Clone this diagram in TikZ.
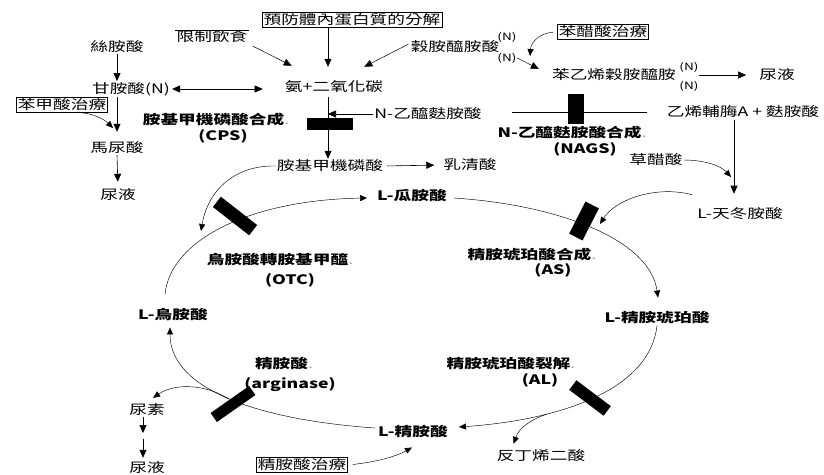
\documentclass[tikz,border=0pt]{standalone}
\usepackage{fontspec}
\usetikzlibrary{arrows.meta,calc}
\newfontfamily\zh{Noto Sans CJK TC}[FakeStretch=1.36]
\newcommand\zhsize{\fontsize{13pt}{15pt}\selectfont}
\tikzset{
  lbl/.style={inner sep=1pt, font=\zh\zhsize},
  blbl/.style={inner sep=1pt, font=\zh\zhsize\bfseries},
  tagN/.style={inner sep=0.5pt, font=\zh\fontsize{10pt}{11pt}\selectfont},
  boxed/.style={lbl, draw, line width=0.6pt, inner sep=1.5pt},
  blk/.style={fill=black, inner sep=0pt},
  arr/.style={line width=0.6pt, -{Triangle[length=8pt,width=7pt]}},
  darr/.style={line width=0.6pt, {Triangle[length=8pt,width=7pt]}-{Triangle[length=8pt,width=7pt]}},
  tarr/.style={line width=0.45pt, -{Triangle[length=7pt,width=6pt]}},
}
\newcommand\gdot{{\mdseries\color{black!35}.}}
\begin{document}
\begin{tikzpicture}[x=1pt,y=-1pt]
\useasboundingbox (0,0) rectangle (824,474);
\fill[white] (0,0) rectangle (824,474);

% ---------- labels ----------
\node[boxed] (prot) at (352,20) {預防體內蛋白質的分解};
\node[lbl] (diet) at (212,37) {限制飲食};
\draw[line width=0.5pt] (diet.north west) -- (diet.north east);
\node[lbl] (ser) at (117,47) {絲胺酸};
\node[lbl] (gly) at (131,89) {甘胺酸(N)};
\node[lbl] (nh3) at (334,87) {氨+二氧化碳};
\node[lbl] (gln) at (455,47) {穀胺醯胺酸};
\node[tagN] (glnA) at (507,37) {(N)};
\node[tagN] (glnB) at (507,58) {(N)};
\node[boxed] (phen) at (603,32) {苯醋酸治療};
\node[lbl] (pag) at (614,75) {苯乙烯穀胺醯胺};
\node[tagN] (pagA) at (689,67) {(N)};
\node[tagN] (pagB) at (689,86) {(N)};
\node[lbl] (urA) at (777,75) {尿液};
\node[lbl] (nac) at (428,114) {N-乙醯麩胺酸};
\node[blbl] (cpsn) at (216,120) {胺基甲機磷酸合成\gdot};
\node[blbl] (cpsa) at (223,136) {(CPS)};
\node[lbl] (acoa) at (743,112) {乙烯輔脢A + 麩胺酸};
\node[blbl] (nagsn) at (572,133) {N-乙醯麩胺酸合成\gdot};
\node[blbl] (nagsa) at (585,149) {(NAGS)};
\node[boxed] (benz) at (62,105) {苯甲酸治療};
\node[lbl] (hip) at (117,148) {馬尿酸};
\node[lbl] (urB) at (118,195) {尿液};
\node[lbl] (cp) at (330,166) {胺基甲機磷酸};
\node[lbl] (oro) at (470,165) {乳清酸};
\node[lbl] (oaa) at (656,160) {草醋酸};
\node[lbl] (asp) at (740,214) {L-天冬胺酸};
\node[blbl] (cit) at (412,196) {L-瓜胺酸};
\node[blbl] (otcn) at (280,260) {烏胺酸轉胺基甲醯\gdot};
\node[blbl] (otca) at (290,280) {(OTC)};
\node[blbl] (asn) at (532,255) {精胺琥珀酸合成\gdot};
\node[blbl] (asa) at (553,270) {(AS)};
\node[blbl] (orn) at (173,315) {L-烏胺酸};
\node[blbl] (asu) at (657,318) {L-精胺琥珀酸};
\node[blbl] (argn) at (284,364) {精胺酸\gdot};
\node[blbl] (arga) at (290,385) {(arginase)};
\node[blbl] (aln) at (511,364) {精胺琥珀酸裂解\gdot};
\node[blbl] (ala) at (540,380) {(AL)};
\node[lbl] (urea) at (147,410) {尿素};
\node[lbl] (urC) at (147,468) {尿液};
\node[boxed] (argt) at (302,465) {精胺酸治療};
\node[blbl] (arg) at (413,432) {L-精胺酸};
\node[lbl] (fum) at (541,456) {反丁烯二酸};

% ---------- helper points ----------
\coordinate (stem) at (328,0);
\coordinate (vx) at (734,0);
\coordinate (um) at (143,436);
\coordinate (bzhit) at (113,128);
\coordinate (phhit) at (530,56);
\coordinate (cphit) at (201,231);
\coordinate (ashit) at (600,224);
\coordinate (oahit) at (731,177);
\coordinate (alfork) at (547,414);
\coordinate (argfork) at (229,399);
\coordinate (nagsL) at (512,112);
\coordinate (nagsR) at (647,112);

% ---------- side pathways ----------
\draw[arr] (ser.south) -- (ser.south |- gly.north);
\draw[darr, shorten >=21pt, shorten <=1pt] (gly.east) -- (nh3.west |- gly.east);
\draw[arr, shorten >=9pt] (gly.south -| ser.south) -- (hip.north);
\draw[tarr] ($(benz.south)+(20,0)$) .. controls (95,114) and (105,120) .. (bzhit);
\draw[arr, shorten >=6pt] (hip.south) -- (urB.north);
\draw[arr, line width=0.5pt] ($(diet.east)+(4,9)$) -- ($(nh3.north west)+(8,-14)$);
\draw[arr] (prot.south -| stem) -- ($(nh3.north -| stem)+(0,-13)$);
\draw[arr, line width=0.5pt] ($(gln.west)+(-1,-3)$) -- ($(nh3.north east)+(-20,-13)$);
\draw[arr, line width=0.5pt] (glnB.east) -- ($(pag.west)+(-12,-6)$);
\draw[tarr, shorten <=4pt] (phen.west) .. controls (540,33) and (531,42) .. (phhit);
\draw[arr, shorten >=12pt] (pagA.east |- pag.east) -- (urA.west);
\draw[arr, shorten <=3pt] (nh3.south -| stem) -- (cp.north -| stem);
\draw[arr] (nac.west) -- (nac.west -| stem);
\draw[line width=0.5pt] (nagsL) -- (nagsR);
\draw[arr, shorten >=8pt, shorten <=3pt] (cp.east) -- (oro.west);
\draw[tarr] (cp.west) .. controls (235,165) and (208,190) .. (cphit);
\draw[arr, shorten >=13pt, shorten <=1pt] (acoa.south -| vx) -- (asp.north -| vx);
\draw[tarr] (oaa.east) .. controls (705,160) and (721,166) .. (oahit);
\draw[tarr] ($(asp.north west)+(-4,-12)$) .. controls (655,185) and (615,200) .. (ashit);

% ---------- urea cycle ----------
\draw[tarr] ($(orn.north)+(-8,-13)$) .. controls (170,240) and (250,200) .. ($(cit.west)+(-9,2)$);
\draw[tarr] ($(cit.east)+(6,2)$) .. controls (560,205) and (650,240) .. ($(asu.north)+(1,-13)$);
\draw[tarr] (asu.south) .. controls (650,390) and (560,420) .. ($(arg.east)+(10,-5)$);
\draw[tarr] ($(arg.west)+(-2,-4)$) .. controls (260,420) and (170,390) .. ($(orn.south)+(-3,5)$);
\draw[tarr] (alfork) .. controls (530,420) and (519,428) .. ($(fum.north west)+(18,-5)$);
\draw[tarr] (argfork) .. controls (205,384) and (175,383) .. ($(urea.north)+(6,-5)$);
\draw[arr] (urea.south -| um) -- ($(um)+(0,-3)$);
\draw[arr, shorten >=3pt] ($(um)+(0,3)$) -- (urC.north -| um);
\draw[tarr, shorten <=5pt] (argt.east) .. controls (375,462) and (395,457) .. ($(arg.south)+(-1,8)$);

% ---------- enzyme blocks ----------
\node[blk, minimum width=46pt, minimum height=12pt] (cpsb) at (330,124) {};
\node[blk, minimum width=16pt, minimum height=30pt] (nagsb) at (576,109) {};
\node[blk, minimum width=46pt, minimum height=13pt, rotate=-38] (otcb) at (235,216) {};
\node[blk, minimum width=36pt, minimum height=15pt, rotate=63] (asb) at (584,221) {};
\node[blk, minimum width=47pt, minimum height=11pt, rotate=35] (argb) at (233,404) {};
\node[blk, minimum width=43pt, minimum height=12pt, rotate=-37] (alb) at (590,398) {};
\end{tikzpicture}
\end{document}
